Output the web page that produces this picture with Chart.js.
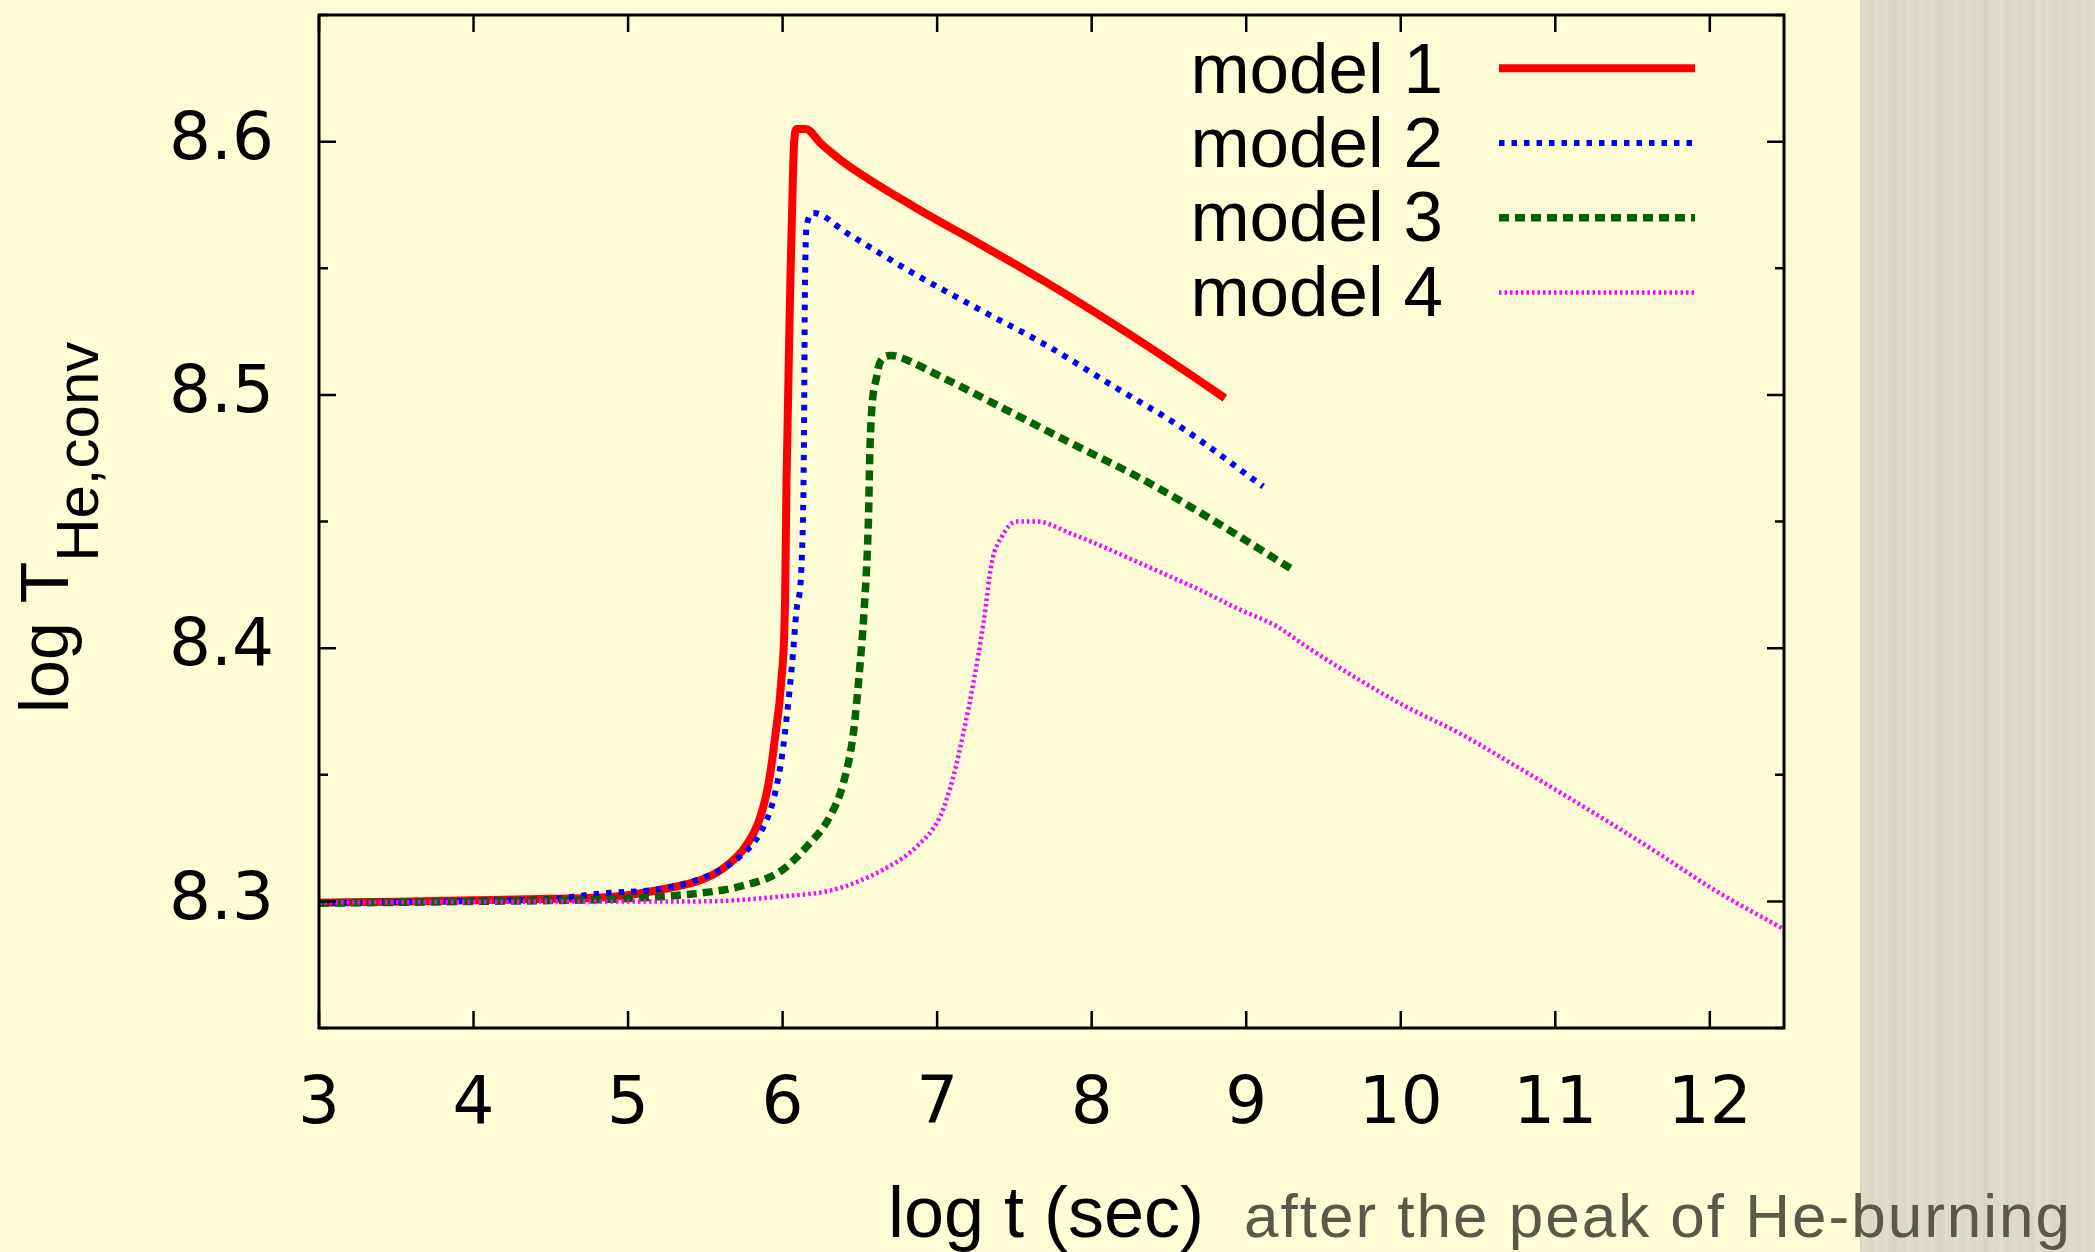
<!DOCTYPE html>
<html>
<head>
<meta charset="utf-8">
<script src="https://cdn.jsdelivr.net/npm/chart.js@4.4.1/dist/chart.umd.min.js"></script>
<style>
    html, body { margin: 0; padding: 0; background: #fffdd5; overflow: hidden; }
    #wrap { position: relative; width: 2095px; height: 1252px; }
    #strip {
        position: absolute; left: 1860px; top: 0; width: 235px; height: 1252px;
        background-color: #dad8c3;
        background-image:
            repeating-linear-gradient(90deg,
                rgba(255,255,255,0) 0px, rgba(255,255,255,0.12) 3px, rgba(255,255,255,0) 7px,
                rgba(0,0,0,0.015) 11px, rgba(255,255,255,0.08) 16px, rgba(255,255,255,0) 23px),
            repeating-linear-gradient(90deg,
                rgba(255,255,255,0) 0px, rgba(255,255,255,0.07) 17px, rgba(255,255,255,0) 41px);
    }
    #chart { position: absolute; left: 0; top: 0; }
</style>
</head>
<body>
<div id="wrap">
    <div id="strip"></div>
    <canvas id="chart" width="2095" height="1252"></canvas>
</div>
<script>
// log t (sec) and log T_He,conv
const model1X = [3.0, 3.5, 4.0, 4.5, 4.9, 5.2, 5.48, 5.62, 5.76, 5.85, 5.91, 5.955, 5.99, 6.016, 6.025, 6.049, 6.07, 6.09, 6.15, 6.245, 6.415, 6.845, 7.278, 7.709, 8.14, 8.571, 8.862];
const model1Y = [8.2995, 8.2999, 8.3004, 8.301, 8.3018, 8.3045, 8.3086, 8.3132, 8.3217, 8.3323, 8.3469, 8.3666, 8.386, 8.419, 8.465, 8.541, 8.594, 8.605, 8.605, 8.5994, 8.591, 8.5745, 8.5595, 8.5443, 8.528, 8.5108, 8.4987];

const model2X = [3.0, 3.5, 4.0, 4.5, 4.82, 5.25, 5.55, 5.725, 5.855, 5.94, 5.995, 6.027, 6.06, 6.09, 6.124, 6.138, 6.143, 6.148, 6.16, 6.2, 6.415, 6.846, 7.278, 7.709, 8.138, 8.571, 9.11];
const model2Y = [8.2993, 8.2998, 8.3003, 8.301, 8.3031, 8.3053, 8.311, 8.3178, 8.327, 8.34, 8.357, 8.373, 8.3928, 8.415, 8.4353, 8.48, 8.53, 8.556, 8.568, 8.5718, 8.5639, 8.548, 8.5336, 8.5195, 8.5035, 8.4875, 8.4638];

const model3X = [3.0, 3.5, 4.0, 4.5, 4.82, 5.36, 5.725, 5.984, 6.157, 6.307, 6.393, 6.458, 6.5, 6.525, 6.555, 6.566, 6.61, 6.65, 6.7, 6.74, 7.02, 7.45, 7.88, 8.312, 8.744, 9.3];
const model3Y = [8.2993, 8.2996, 8.3, 8.3003, 8.3007, 8.3026, 8.3059, 8.3118, 8.3217, 8.3336, 8.3467, 8.3665, 8.3928, 8.4126, 8.45, 8.4805, 8.5077, 8.5145, 8.5155, 8.5152, 8.5073, 8.494, 8.4805, 8.4672, 8.452, 8.431];

const model4X = [3.0, 4.0, 4.82, 5.47, 6.005, 6.33, 6.65, 6.868, 7.02, 7.105, 7.17, 7.234, 7.3, 7.353, 7.418, 7.515, 7.644, 7.86, 8.075, 8.29, 8.507, 8.72, 8.938, 9.197, 9.387, 9.717, 10.046, 10.377, 10.707, 11.036, 11.367, 11.696, 12.027, 12.48];
const model4Y = [8.2995, 8.2998, 8.3, 8.3, 8.302, 8.3046, 8.3125, 8.3217, 8.3336, 8.3493, 8.3665, 8.386, 8.41, 8.4336, 8.444, 8.45, 8.45, 8.4454, 8.44, 8.4342, 8.4283, 8.4224, 8.4158, 8.4086, 8.4007, 8.388, 8.3765, 8.3665, 8.3548, 8.3428, 8.3305, 8.3178, 8.3046, 8.289];

const seriesNames = ['model 1', 'model 2', 'model 3', 'model 4'];
const xTickMin = 3;
const xTickMax = 12.48;
const yTickMin = 8.25;
const yTickMax = 8.65;

const toPoints = (xs, ys) => xs.map((x, i) => ({ x: x, y: ys[i] }));

// frame, mirrored inward ticks, axis titles and the key
const framePlugin = {
    id: 'frame',
    afterDatasetsDraw(chart) {
        const ctx = chart.ctx;
        const a = chart.chartArea;
        const xs = chart.scales.x;
        const ys = chart.scales.y;

        ctx.save();
        ctx.strokeStyle = '#000';
        ctx.lineWidth = 3;
        ctx.setLineDash([]);
        ctx.strokeRect(a.left, a.top, a.right - a.left, a.bottom - a.top);

        ctx.lineWidth = 2.5;
        ctx.beginPath();
        xs.ticks.forEach(t => {
            const px = xs.getPixelForValue(t.value);
            ctx.moveTo(px, a.bottom); ctx.lineTo(px, a.bottom - 17);
            ctx.moveTo(px, a.top); ctx.lineTo(px, a.top + 17);
        });
        ys.ticks.forEach(t => {
            const py = ys.getPixelForValue(t.value);
            const len = t.label ? 17 : 9;
            ctx.moveTo(a.left, py); ctx.lineTo(a.left + len, py);
            ctx.moveTo(a.right, py); ctx.lineTo(a.right - len, py);
        });
        ctx.stroke();

        // x title
        ctx.fillStyle = '#000';
        ctx.textBaseline = 'alphabetic';
        ctx.textAlign = 'left';
        ctx.font = '72px "Liberation Sans", Arial, sans-serif';
        ctx.fillText('log t (sec)', 888, 1237);
        ctx.fillStyle = '#5a5846';
        ctx.font = '62px "Liberation Sans", Arial, sans-serif';
        ctx.letterSpacing = '2px';
        ctx.fillText('after the peak of He-burning', 1244, 1237);
        ctx.letterSpacing = '0px';

        // y title with subscript
        ctx.fillStyle = '#000';
        ctx.translate(68, 713);
        ctx.rotate(-Math.PI / 2);
        ctx.font = '68px "Liberation Sans", Arial, sans-serif';
        ctx.fillText('log T', 0, 0);
        const w = ctx.measureText('log T').width;
        ctx.font = '60px "Liberation Sans", Arial, sans-serif';
        ctx.fillText('He,conv', w, 30);
        ctx.setTransform(1, 0, 0, 1, 0, 0);

        // key
        ctx.font = '71px "Liberation Sans", Arial, sans-serif';
        ctx.textAlign = 'right';
        chart.data.datasets.forEach((ds, i) => {
            const ty = 93 + i * 74.2;
            const ly = 68.3 + i * 74.7;
            ctx.fillStyle = '#000';
            ctx.fillText(ds.label, 1443, ty);
            ctx.strokeStyle = ds.borderColor;
            ctx.lineWidth = ds.borderWidth;
            ctx.setLineDash(ds.borderDash || []);
            ctx.beginPath();
            ctx.moveTo(1499, ly);
            ctx.lineTo(1695, ly);
            ctx.stroke();
        });
        ctx.restore();
    }
};

const noScalePadding = (scale) => {
    scale.paddingTop = 0;
    scale.paddingBottom = 0;
    scale.paddingLeft = 0;
    scale.paddingRight = 0;
};

const chart = new Chart(document.getElementById('chart'), {
    type: 'scatter',
    data: {
        datasets: [
            {
                label: seriesNames[0],
                data: toPoints(model1X, model1Y),
                borderColor: '#ff0000',
                borderWidth: 8,
                borderDash: [],
                order: 3
            },
            {
                label: seriesNames[1],
                data: toPoints(model2X, model2Y),
                borderColor: '#0000ff',
                borderWidth: 6,
                borderDash: [5.5, 7],
                order: 2
            },
            {
                label: seriesNames[2],
                data: toPoints(model3X, model3Y),
                borderColor: '#006400',
                borderWidth: 7.5,
                borderDash: [10, 6],
                order: 1
            },
            {
                label: seriesNames[3],
                data: toPoints(model4X, model4Y),
                borderColor: '#ff00ff',
                borderWidth: 4.5,
                borderDash: [2.5, 3],
                order: 0
            }
        ]
    },
    options: {
        responsive: false,
        animation: false,
        showLine: true,
        layout: { padding: { left: 0, right: 311, top: 15, bottom: 0 } },
        elements: {
            point: { radius: 0, hoverRadius: 0 },
            line: { cubicInterpolationMode: 'monotone', borderJoinStyle: 'round' }
        },
        plugins: {
            legend: { display: false },
            tooltip: { enabled: false }
        },
        scales: {
            x: {
                type: 'linear',
                min: xTickMin,
                max: xTickMax,
                border: { display: false },
                grid: { display: false, drawTicks: false },
                ticks: {
                    stepSize: 1,
                    includeBounds: false,
                    autoSkip: false,
                    maxRotation: 0,
                    padding: 38,
                    color: '#000',
                    font: { family: 'DejaVu Sans', size: 66 }
                },
                afterFit: (scale) => { scale.height = 224; noScalePadding(scale); }
            },
            y: {
                type: 'linear',
                min: yTickMin,
                max: yTickMax,
                border: { display: false },
                grid: { display: false, drawTicks: false },
                ticks: {
                    stepSize: 0.05,
                    includeBounds: false,
                    autoSkip: false,
                    padding: 45,
                    color: '#000',
                    font: { family: 'DejaVu Sans', size: 66 },
                    callback: (value) => {
                        const v = Math.round(value * 100);
                        return v % 10 === 0 ? (v / 100).toFixed(1) : '';
                    }
                },
                afterFit: (scale) => { scale.width = 319; noScalePadding(scale); }
            }
        }
    },
    plugins: [framePlugin]
});
</script>
</body>
</html>
